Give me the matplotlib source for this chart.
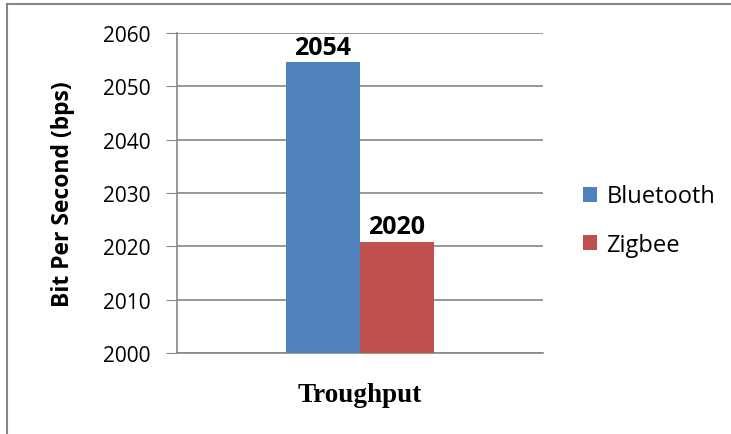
import matplotlib
matplotlib.use('Agg')
import matplotlib.pyplot as plt
from matplotlib.lines import Line2D

series = ['Bluetooth', 'Zigbee']
values = [2054.5, 2020.8]
value_labels = ['2054', '2020']
colors = ['#4f81bd', '#c0504d']
yticks = [2000, 2010, 2020, 2030, 2040, 2050, 2060]

plt.rcParams['font.family'] = ['Open Sans', 'DejaVu Sans']

fig = plt.figure(figsize=(7.31, 4.35), dpi=100)
ax = fig.add_axes([0.242, 0.186, 0.501, 0.736])

w = 0.404
offsets = [-w / 2, w / 2]
for name, v, lab, c, off in zip(series, values, value_labels, colors, offsets):
    ax.bar(off, v - 2000, width=w, bottom=2000, color=c, label=name, zorder=3)
    ax.annotate(lab, (off, v), xytext=(0, 2), textcoords='offset points',
                ha='center', va='bottom', fontsize=18, fontweight='bold')

ax.set_xlim(-1, 1)
ax.set_ylim(2000, 2060)
ax.set_yticks(yticks)
ax.tick_params(axis='y', labelsize=15, length=8, color='#868686', pad=11)
ax.set_xticks([])
ax.grid(axis='y', color='#868686', linewidth=1.2, zorder=0)
for s in ['top', 'right']:
    ax.spines[s].set_visible(False)
for s in ['left', 'bottom']:
    ax.spines[s].set_color('#868686')
    ax.spines[s].set_linewidth(1.2)

ax.set_ylabel('Bit Per Second (bps)', fontsize=16.5, fontweight='bold', labelpad=20)
ax.set_xlabel('Troughput', fontsize=19.5, fontweight='bold',
              family='Liberation Serif', labelpad=21)

fig.legend(loc='center left', bbox_to_anchor=(0.768, 0.49), frameon=False,
           fontsize=17, handlelength=0.6, handleheight=0.6, handletextpad=0.4,
           labelspacing=1.05)

# frame around the chart area
fig.add_artist(Line2D([0.01, 0.01], [0, 0.989], color='#868686', lw=1.5,
                      transform=fig.transFigure))
fig.add_artist(Line2D([0.01, 1], [0.989, 0.989], color='#868686', lw=1.5,
                      transform=fig.transFigure))

fig.savefig('out.png', dpi=100)
